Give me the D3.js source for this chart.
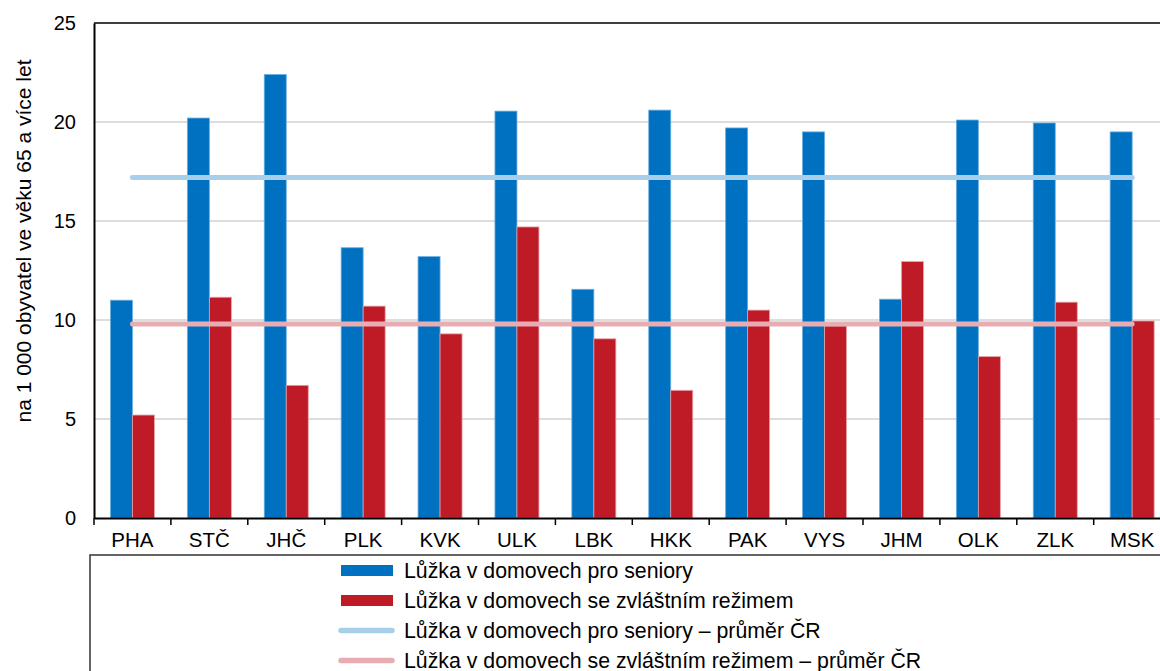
<!DOCTYPE html>
<html>
<head>
<meta charset="utf-8">
<script src="https://cdn.jsdelivr.net/npm/d3@7"></script>
<style>
  html, body { margin: 0; padding: 0; background: #fff; }
  svg { display: block; font-family: "Liberation Sans", Arial, sans-serif; }
</style>
</head>
<body>
<div id="chart"></div>
<script>
// Kraje (zkratky)
const regions = ["PHA", "STČ", "JHČ", "PLK", "KVK", "ULK", "LBK", "HKK", "PAK", "VYS", "JHM", "OLK", "ZLK", "MSK"];

// Lůžka na 1 000 obyvatel ve věku 65+
const seniorBeds  = [11.0, 20.2, 22.4, 13.65, 13.2, 20.55, 11.55, 20.6, 19.7, 19.5, 11.05, 20.1, 19.95, 19.5];
const specialBeds = [5.2, 11.15, 6.7, 10.7, 9.3, 14.7, 9.05, 6.45, 10.5, 9.7, 12.95, 8.15, 10.9, 9.95];

// Průměry ČR
const seniorAvg = 17.2;
const specialAvg = 9.8;

const yTicks = [0, 5, 10, 15, 20, 25];

const legendLabels = [
  "Lůžka v domovech pro seniory",
  "Lůžka v domovech se zvláštním režimem",
  "Lůžka v domovech pro seniory – průměr ČR",
  "Lůžka v domovech se zvláštním režimem – průměr ČR"
];

const BLUE = "#0070c0", RED = "#be1b26";
const BLUE_EDGE = "#6aaede", RED_EDGE = "#e6a2a8";
const BLUE_AVG = "#a8cfea", RED_AVG = "#e8adb3";

const W = 1160, H = 671;
const plot = { left: 94, top: 23, right: 1170.6, bottom: 518 };

const svg = d3.select("#chart").append("svg")
  .attr("width", W).attr("height", H);

const x = d3.scaleBand()
  .domain(regions)
  .range([plot.left, plot.right])
  .paddingInner(0).paddingOuter(0);

const y = d3.scaleLinear().domain([0, 25]).range([plot.bottom, plot.top]);

const barW = 22;

// ── gridlines ──
svg.append("g")
  .selectAll("line")
  .data(yTicks.filter(t => t > 0 && t < 25))
  .join("line")
  .attr("x1", plot.left).attr("x2", plot.right)
  .attr("y1", d => y(d)).attr("y2", d => y(d))
  .attr("stroke", "#d2d2d2").attr("stroke-width", 1.5);

// ── bars ──
const barG = svg.append("g");
barG.selectAll("rect.sen")
  .data(regions)
  .join("rect")
  .attr("class", "sen")
  .attr("x", d => x(d) + x.bandwidth() / 2 - barW)
  .attr("y", (d, i) => y(seniorBeds[i]))
  .attr("width", barW)
  .attr("height", (d, i) => y(0) - y(seniorBeds[i]))
  .attr("fill", BLUE).attr("stroke", BLUE_EDGE).attr("stroke-width", 0.8);

barG.selectAll("rect.spec")
  .data(regions)
  .join("rect")
  .attr("class", "spec")
  .attr("x", d => x(d) + x.bandwidth() / 2)
  .attr("y", (d, i) => y(specialBeds[i]))
  .attr("width", barW)
  .attr("height", (d, i) => y(0) - y(specialBeds[i]))
  .attr("fill", RED).attr("stroke", RED_EDGE).attr("stroke-width", 0.8);

// ── average lines ──
const first = regions[0], last = regions[regions.length - 1];
[[seniorAvg, BLUE_AVG], [specialAvg, RED_AVG]].forEach(([v, c]) => {
  svg.append("line")
    .attr("x1", x(first) + x.bandwidth() / 2)
    .attr("x2", x(last) + x.bandwidth() / 2)
    .attr("y1", y(v)).attr("y2", y(v))
    .attr("stroke", c).attr("stroke-width", 5)
    .attr("stroke-linecap", "round");
});

// ── frame ──
svg.append("line")
  .attr("x1", plot.left).attr("x2", plot.right)
  .attr("y1", plot.top).attr("y2", plot.top)
  .attr("stroke", "#000").attr("stroke-width", 1.5);

// y axis
const yAxis = svg.append("g")
  .attr("transform", `translate(${plot.left},0)`)
  .call(d3.axisLeft(y).tickValues(yTicks).tickSize(0).tickPadding(18));
yAxis.select(".domain").attr("stroke", "#000").attr("stroke-width", 2);
yAxis.selectAll("text")
  .attr("font-size", 20).attr("fill", "#000")
  .attr("font-family", "Liberation Sans, Arial, sans-serif");

// x axis
const xAxis = svg.append("g")
  .attr("transform", `translate(0,${plot.bottom})`)
  .call(d3.axisBottom(x).tickSize(0).tickPadding(14));
xAxis.select(".domain").attr("stroke", "#000").attr("stroke-width", 2);
xAxis.selectAll("text")
  .attr("font-size", 20.5).attr("fill", "#000")
  .attr("font-family", "Liberation Sans, Arial, sans-serif");

// tick marks at band boundaries
svg.append("g")
  .selectAll("line")
  .data(regions)
  .join("line")
  .attr("x1", d => x(d)).attr("x2", d => x(d))
  .attr("y1", plot.bottom).attr("y2", plot.bottom + 7)
  .attr("stroke", "#000").attr("stroke-width", 1.5);

// y title
svg.append("text")
  .attr("transform", "translate(31,241) rotate(-90)")
  .attr("text-anchor", "middle")
  .attr("font-size", 21)
  .attr("fill", "#000")
  .text("na 1 000 obyvatel ve věku 65 a více let");

// ── legend ──
svg.append("rect")
  .attr("x", 90).attr("y", 555)
  .attr("width", 1100).attr("height", 200)
  .attr("fill", "none").attr("stroke", "#333").attr("stroke-width", 1.5);

const legendRows = [
  { type: "bar", color: BLUE },
  { type: "bar", color: RED },
  { type: "line", color: BLUE_AVG },
  { type: "line", color: RED_AVG }
];
const lg = svg.append("g");
legendRows.forEach((r, i) => {
  const cy = 570.5 + i * 30;
  if (r.type === "bar") {
    lg.append("rect")
      .attr("x", 341).attr("y", cy - 5.5)
      .attr("width", 52).attr("height", 11)
      .attr("fill", r.color);
  } else {
    lg.append("line")
      .attr("x1", 341).attr("x2", 392)
      .attr("y1", cy).attr("y2", cy)
      .attr("stroke", r.color).attr("stroke-width", 5.5)
      .attr("stroke-linecap", "round");
  }
  lg.append("text")
    .attr("x", 404).attr("y", cy + 7.5)
    .attr("font-size", 21.3).attr("fill", "#000")
    .text(legendLabels[i]);
});
</script>
</body>
</html>
